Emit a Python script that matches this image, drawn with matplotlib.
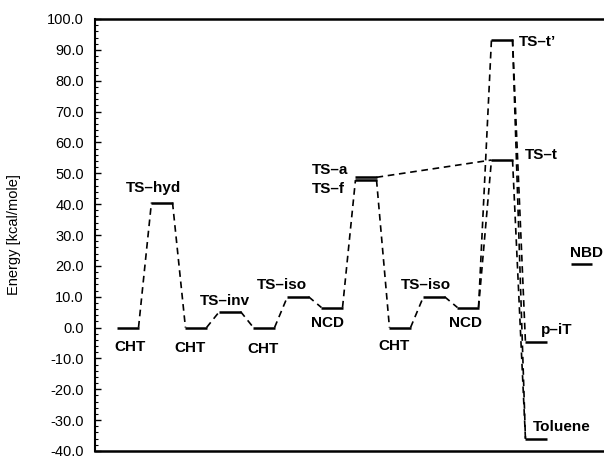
import matplotlib
matplotlib.use('Agg')
import matplotlib.pyplot as plt
from matplotlib.ticker import MultipleLocator, FormatStrFormatter

plt.rcParams['font.family'] = ['Liberation Sans', 'DejaVu Sans']

# Niveis de energia (kcal/mole) ao longo da coordenada de reacao
names = ['CHT', 'TS–hyd', 'CHT', 'TS–inv', 'CHT', 'TS–iso', 'NCD', 'TS–a', 'TS–f',
         'CHT', 'TS–iso', 'NCD', 'TS–t\u2019', 'TS–t', 'p–iT', 'Toluene', 'NBD']
coord = [0, 1, 2, 3, 4, 5, 6, 7, 7, 8, 9, 10, 11, 11, 12, 12, 13.35]
energy = [0.0, 40.5, 0.0, 5.2, 0.0, 10.0, 6.5, 48.7, 47.8,
          0.0, 10.0, 6.5, 93.3, 54.3, -4.8, -36.1, 20.5]

# ligacoes tracejadas (indice origem, indice destino)
links = [(0, 1), (1, 2), (2, 3), (3, 4), (4, 5), (5, 6), (6, 8), (7, 13),
         (8, 9), (9, 10), (10, 11), (11, 12), (11, 13), (13, 15), (12, 15), (12, 14)]

# posicao dos rotulos (deslocamento em x, deslocamento em y, alinhamento)
label_pos = [(0.06, -6.3, 'center'), (-0.26, 4.6, 'center'), (-0.19, -6.6, 'center'),
             (-0.16, 3.5, 'center'), (-0.02, -6.9, 'center'), (-0.47, 3.8, 'center'),
             (-0.13, -4.9, 'center'), (-1.07, 2.4, 'center'), (-1.10, -3.0, 'center'),
             (-0.19, -6.0, 'center'), (-0.24, 3.8, 'center'), (-0.08, -4.9, 'center'),
             (0.50, -0.7, 'left'), (0.68, 1.6, 'left'), (0.14, 4.0, 'left'),
             (-0.08, 3.8, 'left'), (0.14, 3.6, 'center')]

half = 0.31

fig = plt.figure(figsize=(6.04, 4.58), dpi=100)
ax = fig.add_axes([95 / 604, 7 / 458, 509 / 604, 432 / 458])

for a, b in links:
    x0 = coord[a] + half if coord[b] > coord[a] else coord[a] - half
    x1 = coord[b] - half if coord[b] > coord[a] else coord[b] + half
    ax.plot([x0, x1], [energy[a], energy[b]], color='black', lw=1.2,
            dashes=(4, 2.8), solid_capstyle='butt')

for i, (n, x, e) in enumerate(zip(names, coord, energy)):
    ax.plot([x - half, x + half], [e, e], color='black', lw=1.8, solid_capstyle='butt')
    dx, dy, ha = label_pos[i]
    ax.text(x + dx, e + dy, n, ha=ha, va='center', fontsize=11, fontweight='bold')

ax.set_xlim(-0.97, 14.0)
ax.set_ylim(-40, 100)
ax.yaxis.set_major_locator(MultipleLocator(10))
ax.yaxis.set_minor_locator(MultipleLocator(2))
ax.yaxis.set_major_formatter(FormatStrFormatter('%.1f'))
ax.set_xticks([])
ax.tick_params(axis='y', which='major', direction='in', length=4, width=1, labelsize=10.5, pad=8)
ax.tick_params(axis='y', which='minor', direction='in', length=2, width=0.8)
ax.set_ylabel('Energy [kcal/mole]', fontsize=10.5)
ax.yaxis.set_label_coords(-0.145, 0.5)

ax.spines['right'].set_visible(False)
ax.spines['top'].set_linewidth(1.8)
ax.spines['bottom'].set_linewidth(1.8)
ax.spines['left'].set_linewidth(1.5)

fig.savefig('out.png', dpi=100)
